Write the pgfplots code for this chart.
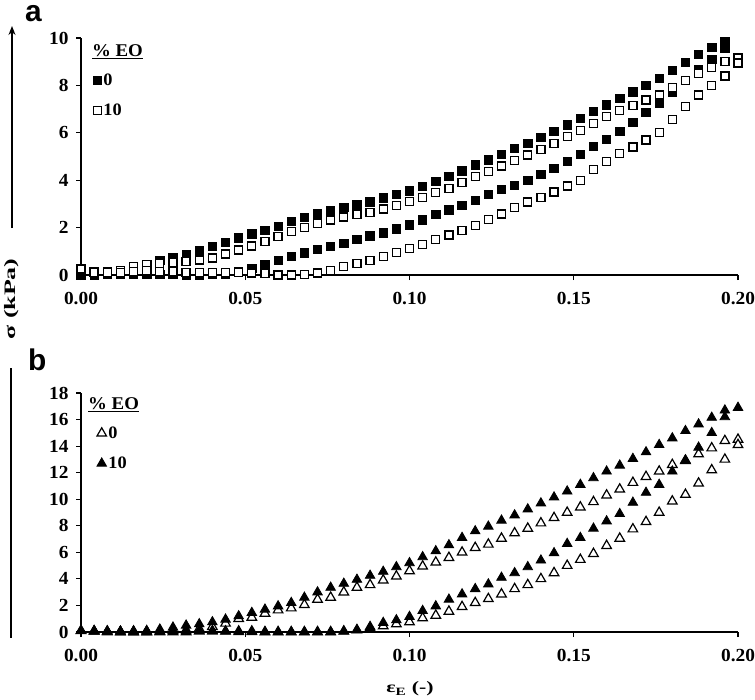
\documentclass[border=0pt]{standalone}
\usepackage{fontspec}
\setmainfont{Liberation Serif}[FakeStretch=1.05]
\newfontfamily\panelfont{Liberation Sans}
\usepackage{pgfplots}
\pgfplotsset{compat=1.18}
\usetikzlibrary{arrows.meta}
\begin{document}
\begin{tikzpicture}
\useasboundingbox (0bp,0bp) rectangle (755bp,-700bp);
\pgfplotsset{
 common/.style={
  scale only axis, width=657bp, xmin=0, xmax=0.2, ymin=0,
  axis lines=left, axis line style={-, line width=1.3bp},
  tick align=outside, major tick length=5bp,
  tick style={black, line width=1.2bp},
  xtick={0,0.05,0.1,0.15,0.2},
  xticklabel style={yshift=-9bp, /pgf/number format/.cd, fixed, fixed zerofill, precision=2},
  yticklabel style={xshift=-4bp},
  /pgf/number format/assume math mode=true,
  tick label style={font=\bfseries\fontsize{18.5}{18.5}\selectfont},
  clip=false,
  legend style={draw=none, fill=none, inner sep=0pt, anchor=north west,
    font=\bfseries\fontsize{17.5}{17.5}\selectfont, row sep=13bp, nodes={inner sep=2bp}},
  legend cell align=left,
  legend image code/.code={\draw[mark repeat=1,#1] plot coordinates {(0bp,0bp)};},
 }
}
% ---------------- panel a ----------------
\begin{axis}[common, at={(81bp,-275bp)}, anchor=south west, height=237bp,
  ymax=10, ytick={0,2,...,10}, legend style={at={(0.018,0.858)}}]
\addplot[only marks, mark=square*, mark size=4.2bp, mark options={fill=black, draw=black, line width=0.8bp}] coordinates {
(0,0.0)(0.004,0.03)(0.008,0.07)(0.012,0.18)(0.016,0.3)(0.02,0.45)(0.024,0.62)(0.028,0.74)(0.032,0.85)(0.036,1.02)(0.04,1.2)(0.044,1.38)(0.048,1.56)(0.052,1.73)(0.056,1.89)(0.06,2.05)(0.064,2.25)(0.068,2.43)(0.072,2.57)(0.076,2.71)(0.08,2.85)(0.084,2.96)(0.088,3.08)(0.092,3.25)(0.096,3.4)(0.1,3.55)(0.104,3.75)(0.108,3.95)(0.112,4.15)(0.116,4.4)(0.12,4.65)(0.124,4.86)(0.128,5.1)(0.132,5.33)(0.136,5.55)(0.14,5.8)(0.144,6.07)(0.148,6.33)(0.152,6.6)(0.156,6.9)(0.16,7.18)(0.164,7.45)(0.168,7.73)(0.172,8.0)(0.176,8.3)(0.18,8.63)(0.184,8.97)(0.188,9.3)(0.192,9.6)(0.196,9.85)
(0.196,9.55)(0.192,9.1)(0.188,8.65)(0.184,8.2)(0.18,7.7)(0.176,7.24)(0.172,6.85)(0.168,6.45)(0.164,6.07)(0.16,5.72)(0.156,5.42)(0.152,5.1)(0.148,4.8)(0.144,4.5)(0.14,4.25)(0.136,4.0)(0.132,3.78)(0.128,3.6)(0.124,3.4)(0.12,3.15)(0.116,2.93)(0.112,2.74)(0.108,2.55)(0.104,2.32)(0.1,2.11)(0.096,1.95)(0.092,1.78)(0.088,1.65)(0.084,1.5)(0.08,1.33)(0.076,1.2)(0.072,1.07)(0.068,0.93)(0.064,0.78)(0.06,0.62)(0.056,0.45)(0.052,0.28)(0.048,0.13)(0.044,0.05)(0.04,0.02)(0.036,0.0)(0.032,0.0)(0.028,0.02)(0.024,0.03)(0.02,0.05)(0.016,0.05)(0.012,0.05)(0.008,0.03)(0.004,0.0)
};
\addlegendentry{0}
\addplot[only marks, mark=square*, mark size=4bp, mark options={fill=white, draw=black, line width=1.3bp}] coordinates {
(0,0.25)(0.004,0.15)(0.008,0.15)(0.012,0.2)(0.016,0.35)(0.02,0.45)(0.024,0.5)(0.028,0.53)(0.032,0.57)(0.036,0.63)(0.04,0.72)(0.044,0.88)(0.048,1.05)(0.052,1.22)(0.056,1.4)(0.06,1.62)(0.064,1.83)(0.068,2.0)(0.072,2.17)(0.076,2.32)(0.08,2.45)(0.084,2.55)(0.088,2.65)(0.092,2.78)(0.096,2.93)(0.1,3.1)(0.104,3.28)(0.108,3.47)(0.112,3.66)(0.116,3.9)(0.12,4.15)(0.124,4.38)(0.128,4.6)(0.132,4.83)(0.136,5.06)(0.14,5.3)(0.144,5.56)(0.148,5.83)(0.152,6.1)(0.156,6.4)(0.16,6.7)(0.164,6.95)(0.168,7.15)(0.172,7.38)(0.176,7.6)(0.18,7.9)(0.184,8.2)(0.188,8.5)(0.192,8.75)(0.196,9.0)(0.2,9.15)
(0.2,8.95)(0.196,8.4)(0.192,8.0)(0.188,7.6)(0.184,7.1)(0.18,6.55)(0.176,6.0)(0.172,5.7)(0.168,5.4)(0.164,5.12)(0.16,4.8)(0.156,4.45)(0.152,4.0)(0.148,3.75)(0.144,3.5)(0.14,3.28)(0.136,3.08)(0.132,2.85)(0.128,2.58)(0.124,2.33)(0.12,2.1)(0.116,1.88)(0.112,1.69)(0.108,1.5)(0.104,1.3)(0.1,1.13)(0.096,0.95)(0.092,0.78)(0.088,0.62)(0.084,0.48)(0.08,0.35)(0.076,0.18)(0.072,0.08)(0.068,0.02)(0.064,0.0)(0.06,0.0)(0.056,0.05)(0.052,0.08)(0.048,0.12)(0.044,0.12)(0.04,0.1)(0.036,0.1)(0.032,0.12)(0.028,0.15)(0.024,0.15)(0.02,0.18)(0.016,0.15)(0.012,0.12)(0.008,0.1)(0.004,0.12)
};
\addlegendentry{10}
\node[anchor=base west, inner sep=0pt, font=\bfseries\fontsize{18}{18}\selectfont] at (rel axis cs:0.0167,0.92) {\underline{\% EO}};
\end{axis}
% ---------------- panel b ----------------
\begin{axis}[common, at={(81bp,-632bp)}, anchor=south west, height=239bp,
  ymax=18, ytick={0,2,...,18}, legend style={at={(0.024,0.868)}}]
\addplot[only marks, mark=triangle*, mark size=5.5bp, mark options={fill=white, draw=black, line width=1.2bp}] coordinates {
(0,0.1)(0.004,0.05)(0.008,0.0)(0.012,0.0)(0.016,0.0)(0.02,0.0)(0.024,0.05)(0.028,0.1)(0.032,0.15)(0.036,0.25)(0.04,0.4)(0.044,0.65)(0.048,1.0)(0.052,1.1)(0.056,1.4)(0.06,1.65)(0.064,1.8)(0.068,2.05)(0.072,2.45)(0.076,2.6)(0.08,3.0)(0.084,3.35)(0.088,3.55)(0.092,3.9)(0.096,4.2)(0.1,4.6)(0.104,4.95)(0.108,5.25)(0.112,5.6)(0.116,6.0)(0.12,6.35)(0.124,6.6)(0.128,7.05)(0.132,7.45)(0.136,7.8)(0.14,8.2)(0.144,8.6)(0.148,9.0)(0.152,9.4)(0.156,9.8)(0.16,10.3)(0.164,10.75)(0.168,11.25)(0.172,11.7)(0.176,12.1)(0.18,12.6)(0.184,12.9)(0.188,13.4)(0.192,13.85)(0.196,14.4)(0.2,14.5)
(0.2,14.1)(0.196,13.0)(0.192,12.2)(0.188,11.2)(0.184,10.35)(0.18,9.85)(0.176,9.0)(0.172,8.3)(0.168,7.75)(0.164,7.05)(0.16,6.5)(0.156,5.9)(0.152,5.45)(0.148,5.0)(0.144,4.45)(0.14,4.0)(0.136,3.55)(0.132,3.25)(0.128,2.85)(0.124,2.5)(0.12,2.2)(0.116,1.9)(0.112,1.55)(0.108,1.25)(0.104,1.05)(0.1,0.75)(0.096,0.6)(0.092,0.45)(0.088,0.3)(0.084,0.15)(0.08,0.05)(0.076,0.0)(0.072,0.0)(0.068,0.0)(0.064,0.0)(0.06,0.0)(0.056,0.0)(0.052,0.05)(0.048,0.05)(0.044,0.05)(0.04,0.05)(0.036,0.05)(0.032,0.0)(0.028,0.0)(0.024,0.0)(0.02,0.0)(0.016,0.0)(0.012,0.0)(0.008,0.05)(0.004,0.05)
};
\addlegendentry{0}
\addplot[only marks, mark=triangle*, mark size=5.5bp, mark options={fill=black, draw=black, line width=0.8bp}] coordinates {
(0,0.1)(0.004,0.05)(0.008,0.05)(0.012,0.05)(0.016,0.08)(0.02,0.1)(0.024,0.2)(0.028,0.35)(0.032,0.5)(0.036,0.6)(0.04,0.75)(0.044,0.95)(0.048,1.2)(0.052,1.45)(0.056,1.7)(0.06,1.95)(0.064,2.2)(0.068,2.6)(0.072,3.0)(0.076,3.35)(0.08,3.65)(0.084,3.95)(0.088,4.25)(0.092,4.55)(0.096,4.9)(0.1,5.2)(0.104,5.65)(0.108,6.1)(0.112,6.55)(0.116,7.1)(0.12,7.6)(0.124,7.95)(0.128,8.4)(0.132,8.8)(0.136,9.25)(0.14,9.7)(0.144,10.15)(0.148,10.6)(0.152,11.1)(0.156,11.6)(0.16,12.1)(0.164,12.55)(0.168,13.05)(0.172,13.55)(0.176,14.1)(0.18,14.6)(0.184,15.15)(0.188,15.65)(0.192,16.15)(0.196,16.7)(0.2,16.9)
(0.196,16.2)(0.192,15.0)(0.188,13.9)(0.184,12.95)(0.18,12.1)(0.176,11.1)(0.172,10.5)(0.168,9.75)(0.164,8.9)(0.16,8.35)(0.156,7.8)(0.152,7.1)(0.148,6.65)(0.144,5.95)(0.14,5.4)(0.136,4.9)(0.132,4.45)(0.128,4.1)(0.124,3.6)(0.12,3.25)(0.116,2.85)(0.112,2.45)(0.108,1.95)(0.104,1.6)(0.1,1.15)(0.096,0.9)(0.092,0.7)(0.088,0.4)(0.084,0.15)(0.08,0.05)(0.076,0.0)(0.072,0.0)(0.068,0.0)(0.064,0.0)(0.06,0.0)(0.056,0.0)(0.052,0.0)(0.048,0.0)(0.044,0.05)(0.04,0.1)(0.036,0.1)(0.032,0.05)(0.028,0.05)(0.024,0.05)(0.02,0.05)(0.016,0.0)(0.012,0.05)(0.008,0.05)(0.004,0.1)
};
\addlegendentry{10}
\node[anchor=base west, inner sep=0pt, font=\bfseries\fontsize{18}{18}\selectfont] at (rel axis cs:0.0107,0.929) {\underline{\% EO}};
\end{axis}
% ---------------- annotations ----------------
\node[anchor=base west, inner sep=0pt, font=\panelfont\bfseries\fontsize{30}{30}\selectfont] at (25bp,-21bp) {a};
\node[anchor=base west, inner sep=0pt, font=\panelfont\bfseries\fontsize{30}{30}\selectfont] at (28bp,-370bp) {b};
\draw[line width=1.4bp, -{Stealth[length=9bp,width=7bp]}] (12bp,-228bp) -- (12bp,-26bp);
\draw[line width=1.4bp] (11bp,-368bp) -- (11bp,-638bp);
\node[rotate=90, inner sep=0pt, font=\bfseries\fontsize{16}{16}\selectfont] at (12bp,-299bp) {\scalebox{1.55}[1]{σ (kPa)}};
\node[inner sep=0pt, font=\bfseries\fontsize{16}{16}\selectfont] at (410bp,-689bp) {\scalebox{1.3}[1]{ε\textsubscript{E} (-)}};
\end{tikzpicture}
\end{document}
